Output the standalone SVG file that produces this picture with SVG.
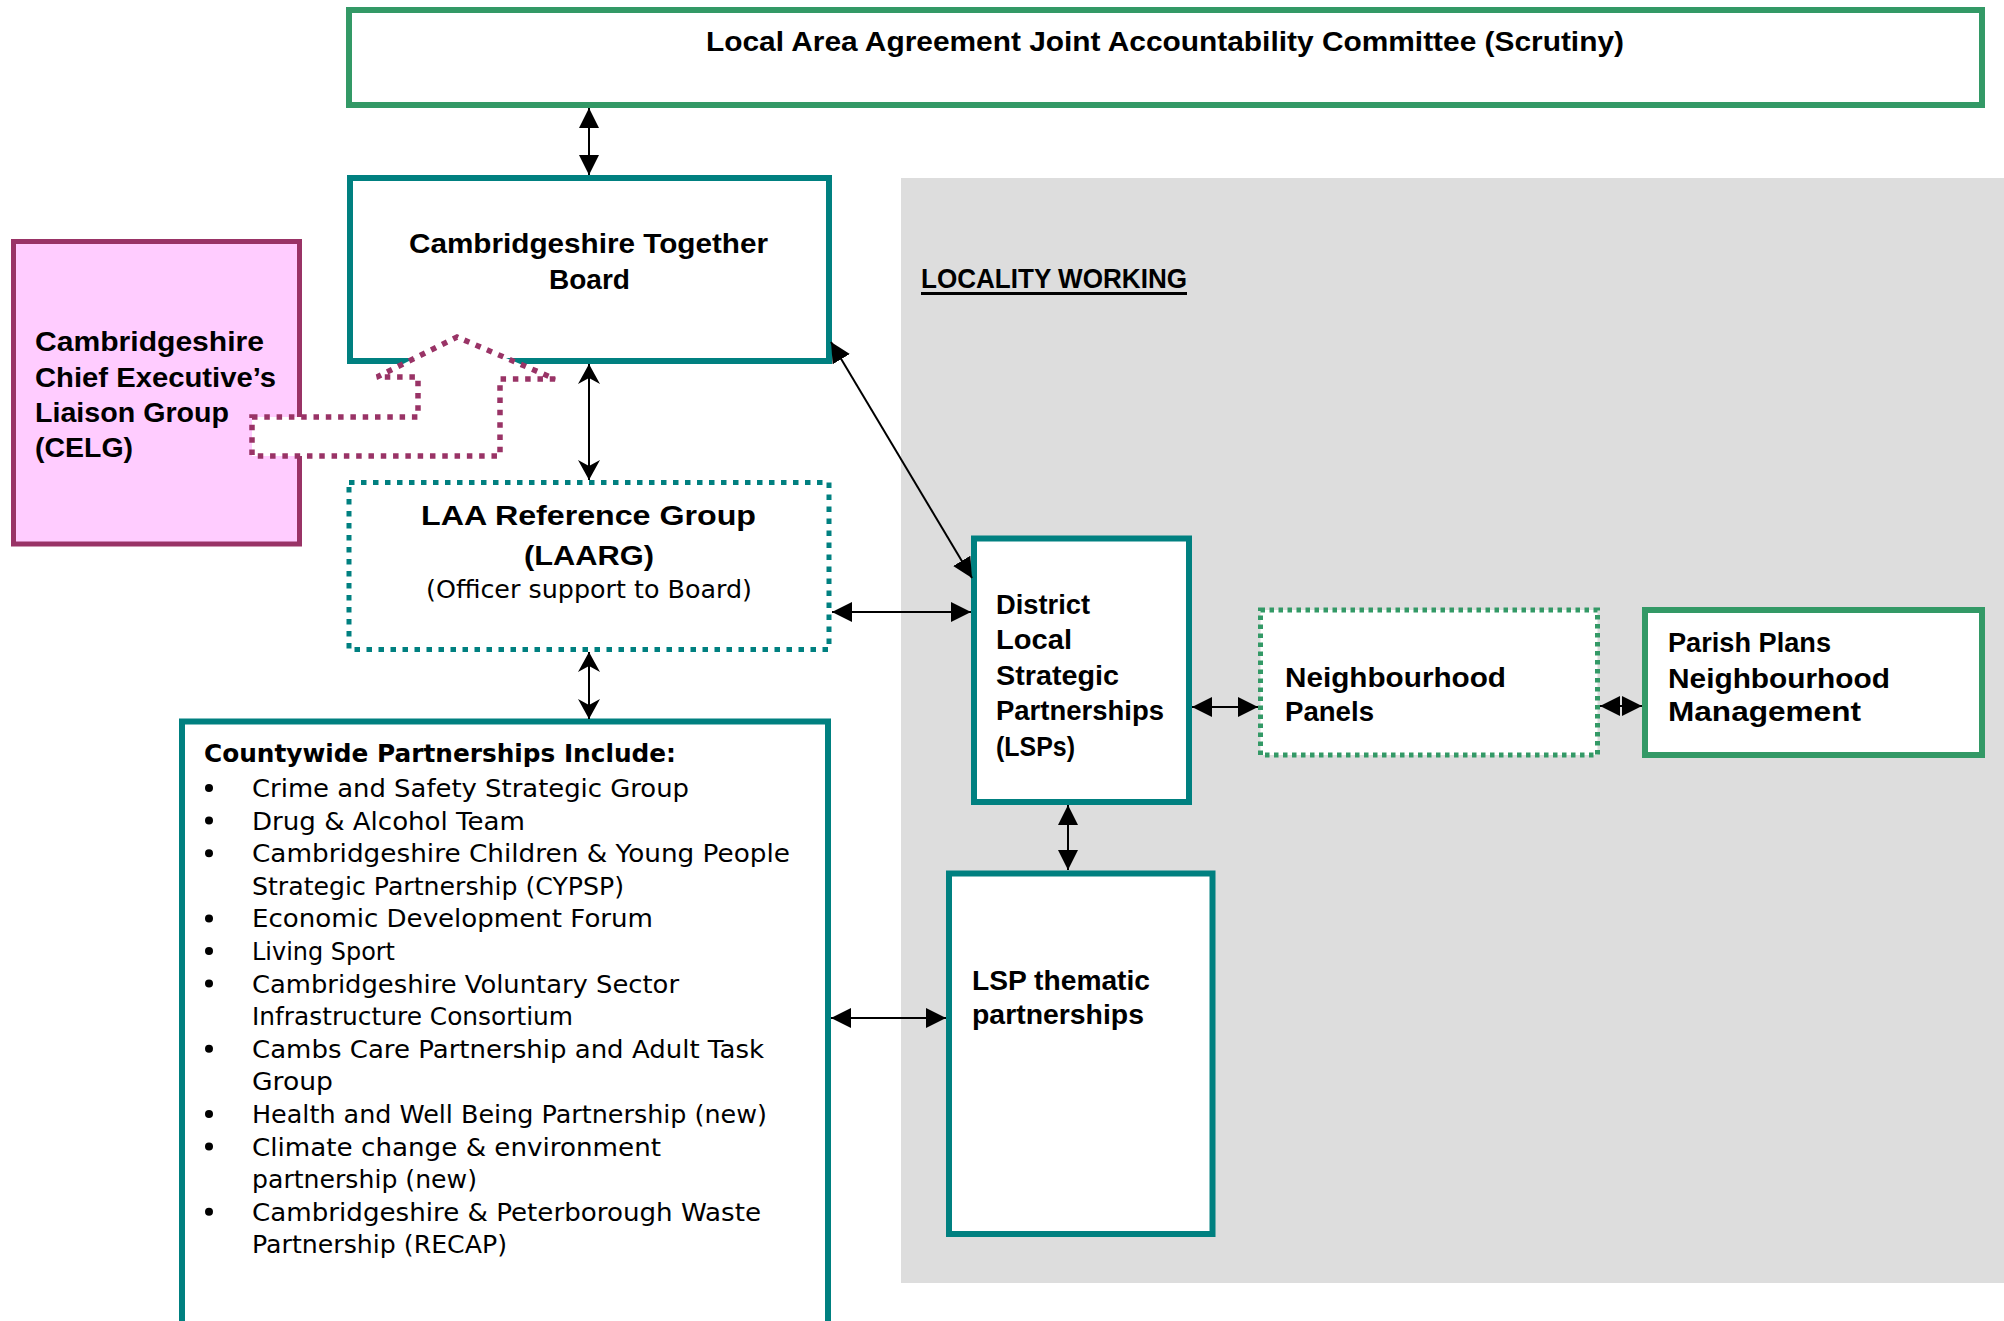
<svg xmlns="http://www.w3.org/2000/svg" width="2004" height="1321" viewBox="0 0 2004 1321">
<style>
.b{font-family:"Liberation Sans",Arial,sans-serif;font-weight:bold;font-size:27px;fill:#000}
.cb{font-family:"DejaVu Sans",sans-serif;font-weight:bold;font-size:25px;fill:#000}
.r{font-family:"DejaVu Sans",sans-serif;font-size:25px;fill:#000}
.t{fill:#fff;stroke:#008080;stroke-width:6}
.td{fill:#fff;stroke:#008080;stroke-width:5;stroke-dasharray:5.5 6.5}
.g{fill:#fff;stroke:#339966;stroke-width:6}
.gd{fill:#fff;stroke:#339966;stroke-width:5;stroke-dasharray:4.5 4.5}
.c{stroke:#000;stroke-width:2;fill:none}
.f{marker-start:url(#ah);marker-end:url(#ah)}
.s{marker-start:url(#as);marker-end:url(#as)}
</style>
<defs>
<marker id="ah" viewBox="0 0 20 20" refX="20" refY="10" markerWidth="20" markerHeight="20" markerUnits="userSpaceOnUse" orient="auto-start-reverse"><path d="M0,0 L20,10 L0,20 z" fill="#000"/></marker>
<marker id="as" viewBox="0 0 20 22" refX="20" refY="11" markerWidth="20" markerHeight="22" markerUnits="userSpaceOnUse" orient="auto-start-reverse"><path d="M0,0 L20,11 L0,22 L6,11 z" fill="#000"/></marker>
</defs>
<rect width="2004" height="1321" fill="#fff"/>
<rect id="locality-area" x="901" y="178" width="1103" height="1105" fill="#DDDDDD"/>
<g id="locality-label">
<text class="b" x="921" y="288" font-size="32" textLength="266" lengthAdjust="spacingAndGlyphs">LOCALITY WORKING</text>
<rect x="921" y="292" width="266" height="3" fill="#000"/>
</g>
<g id="jac">
<rect class="g" x="349" y="10" width="1633" height="95"/>
<text class="b" x="706" y="51" font-size="28" textLength="918" lengthAdjust="spacingAndGlyphs">Local Area Agreement Joint Accountability Committee (Scrutiny)</text>
</g>
<g id="board">
<rect class="t" x="350" y="178" width="479" height="183"/>
<text class="b" x="409" y="253" textLength="359" lengthAdjust="spacingAndGlyphs">Cambridgeshire Together</text>
<text class="b" x="549" y="289" textLength="81" lengthAdjust="spacingAndGlyphs">Board</text>
</g>
<g id="celg">
<rect x="13.5" y="241.5" width="286" height="302.5" fill="#FFCCFF" stroke="#993366" stroke-width="5"/>
<text class="b" x="35" y="351" textLength="229" lengthAdjust="spacingAndGlyphs">Cambridgeshire</text>
<text class="b" x="35" y="387" textLength="241" lengthAdjust="spacingAndGlyphs">Chief Executive’s</text>
<text class="b" x="35" y="422" textLength="194" lengthAdjust="spacingAndGlyphs">Liaison Group</text>
<text class="b" x="35" y="457" textLength="98" lengthAdjust="spacingAndGlyphs">(CELG)</text>
</g>
<g id="laarg">
<rect class="td" x="349" y="482.5" width="480" height="167"/>
<text class="b" x="421" y="525" font-size="28" textLength="335" lengthAdjust="spacingAndGlyphs">LAA Reference Group</text>
<text class="b" x="524" y="565" font-size="28" textLength="130" lengthAdjust="spacingAndGlyphs">(LAARG)</text>
<text class="r" x="426" y="598" font-size="24" textLength="326" lengthAdjust="spacingAndGlyphs">(Officer support to Board)</text>
</g>
<g id="countywide">
<rect class="t" x="182" y="721.5" width="646" height="640"/>
<text class="cb" x="204" y="762" textLength="472" lengthAdjust="spacingAndGlyphs">Countywide Partnerships Include:</text>
<g fill="#000">
<circle cx="209" cy="788" r="4"/>
<circle cx="209" cy="820.6" r="4"/>
<circle cx="209" cy="853.2" r="4"/>
<circle cx="209" cy="918.4" r="4"/>
<circle cx="209" cy="951" r="4"/>
<circle cx="209" cy="983.6" r="4"/>
<circle cx="209" cy="1048.8" r="4"/>
<circle cx="209" cy="1114" r="4"/>
<circle cx="209" cy="1146.6" r="4"/>
<circle cx="209" cy="1211.8" r="4"/>
</g>
<text class="r" x="252" y="797" textLength="437" lengthAdjust="spacingAndGlyphs">Crime and Safety Strategic Group</text>
<text class="r" x="252" y="829.6" textLength="273" lengthAdjust="spacingAndGlyphs">Drug &amp; Alcohol Team</text>
<text class="r" x="252" y="862.2" textLength="538" lengthAdjust="spacingAndGlyphs">Cambridgeshire Children &amp; Young People</text>
<text class="r" x="252" y="894.8" textLength="372" lengthAdjust="spacingAndGlyphs">Strategic Partnership (CYPSP)</text>
<text class="r" x="252" y="927.4" textLength="401" lengthAdjust="spacingAndGlyphs">Economic Development Forum</text>
<text class="r" x="252" y="960" textLength="143" lengthAdjust="spacingAndGlyphs">Living Sport</text>
<text class="r" x="252" y="992.6" textLength="427" lengthAdjust="spacingAndGlyphs">Cambridgeshire Voluntary Sector</text>
<text class="r" x="252" y="1025.2" textLength="321" lengthAdjust="spacingAndGlyphs">Infrastructure Consortium</text>
<text class="r" x="252" y="1057.8" textLength="512" lengthAdjust="spacingAndGlyphs">Cambs Care Partnership and Adult Task</text>
<text class="r" x="252" y="1090.4" textLength="81" lengthAdjust="spacingAndGlyphs">Group</text>
<text class="r" x="252" y="1123" textLength="515" lengthAdjust="spacingAndGlyphs">Health and Well Being Partnership (new)</text>
<text class="r" x="252" y="1155.6" textLength="409" lengthAdjust="spacingAndGlyphs">Climate change &amp; environment</text>
<text class="r" x="252" y="1188.2" textLength="225" lengthAdjust="spacingAndGlyphs">partnership (new)</text>
<text class="r" x="252" y="1220.8" textLength="509" lengthAdjust="spacingAndGlyphs">Cambridgeshire &amp; Peterborough Waste</text>
<text class="r" x="252" y="1253.4" textLength="255" lengthAdjust="spacingAndGlyphs">Partnership (RECAP)</text>
</g>
<g id="district">
<rect class="t" x="974" y="538.5" width="215" height="263.5"/>
<text class="b" x="996" y="613.5" textLength="94" lengthAdjust="spacingAndGlyphs">District</text>
<text class="b" x="996" y="649" textLength="76" lengthAdjust="spacingAndGlyphs">Local</text>
<text class="b" x="996" y="684.5" textLength="123" lengthAdjust="spacingAndGlyphs">Strategic</text>
<text class="b" x="996" y="720" textLength="168" lengthAdjust="spacingAndGlyphs">Partnerships</text>
<text class="b" x="996" y="755.5" textLength="79" lengthAdjust="spacingAndGlyphs">(LSPs)</text>
</g>
<g id="neighbourhood-panels">
<rect class="gd" x="1260.5" y="610" width="337" height="145"/>
<text class="b" x="1285" y="686.5" textLength="221" lengthAdjust="spacingAndGlyphs">Neighbourhood</text>
<text class="b" x="1285" y="720.5" textLength="89" lengthAdjust="spacingAndGlyphs">Panels</text>
</g>
<g id="parish">
<rect class="g" x="1645" y="610" width="337" height="145"/>
<text class="b" x="1668" y="652" textLength="163" lengthAdjust="spacingAndGlyphs">Parish Plans</text>
<text class="b" x="1668" y="687.5" textLength="222" lengthAdjust="spacingAndGlyphs">Neighbourhood</text>
<text class="b" x="1668" y="721" textLength="193" lengthAdjust="spacingAndGlyphs">Management</text>
</g>
<g id="lsp-thematic">
<rect class="t" x="949" y="873.5" width="263.5" height="360.5"/>
<text class="b" x="972" y="990" textLength="178" lengthAdjust="spacingAndGlyphs">LSP thematic</text>
<text class="b" x="972" y="1024" textLength="172" lengthAdjust="spacingAndGlyphs">partnerships</text>
</g>
<g id="connectors">
<line class="c f" x1="589" y1="108" x2="589" y2="175"/>
<line class="c s" x1="589" y1="364" x2="589" y2="480"/>
<line class="c s" x1="589" y1="652" x2="589" y2="719"/>
<line class="c f" x1="831" y1="342" x2="972" y2="578"/>
<line class="c f" x1="832" y1="612" x2="971" y2="612"/>
<line class="c f" x1="1192" y1="707" x2="1258" y2="707"/>
<line class="c f" x1="1600" y1="706" x2="1642" y2="706"/>
<line class="c f" x1="1068" y1="805" x2="1068" y2="870"/>
<line class="c f" x1="831" y1="1018" x2="946" y2="1018"/>
<polygon id="celg-block-arrow" points="252,417 418,417 418,377 377,377 457,337 555,379 500,379 500,456 252,456" fill="#fff" stroke="#993366" stroke-width="5.5" stroke-dasharray="5.5 6.8"/>
</g>
</svg>
